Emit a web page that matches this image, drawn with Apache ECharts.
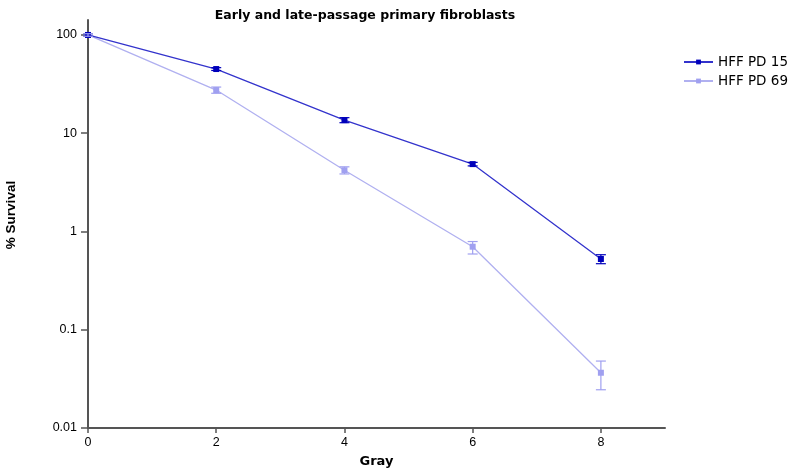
<!DOCTYPE html>
<html>
<head>
<meta charset="utf-8">
<script src="https://cdn.jsdelivr.net/npm/echarts@6/dist/echarts.min.js"></script>
<style>html,body{margin:0;padding:0;background:#fff}#c{width:800px;height:476px}</style>
</head>
<body>
<div id="c"></div>
<script>
const doses = [0, 2, 4, 6, 8];
const pd15 = [100, 45, 13.6, 4.85, 0.525];
const pd15Low = [97, 43.5, 12.8, 4.65, 0.47];
const pd15High = [103, 46.5, 14.4, 5.05, 0.58];
const pd69 = [100, 27.5, 4.2, 0.70, 0.0365];
const pd69Low = [97, 25.5, 3.85, 0.59, 0.0245];
const pd69High = [103, 29.5, 4.55, 0.79, 0.048];
const xTicks = [0, 2, 4, 6, 8];
const yTicks = [0.01, 0.1, 1, 10, 100];

const c15 = '#0000BB', l15 = '#3333CC';
const c69 = '#A0A0F0', l69 = '#B0B0F0';

function pairs(v){ return doses.map((d,i)=>[d, v[i]]); }
function errData(lo, hi){ return doses.map((d,i)=>[d, lo[i], hi[i]]); }
function errRender(color){
  return function(params, api){
    const x = api.value(0);
    const p1 = api.coord([x, api.value(1)]);
    const p2 = api.coord([x, api.value(2)]);
    const w = 5;
    const st = {stroke: color, lineWidth: 1.2};
    return {type:'group', children:[
      {type:'line', shape:{x1:p1[0], y1:p1[1], x2:p2[0], y2:p2[1]}, style:st},
      {type:'line', shape:{x1:p1[0]-w, y1:p1[1], x2:p1[0]+w, y2:p1[1]}, style:st},
      {type:'line', shape:{x1:p2[0]-w, y1:p2[1], x2:p2[0]+w, y2:p2[1]}, style:st}
    ]};
  };
}

const axisCol = '#555555';
const chart = echarts.init(document.getElementById('c'));
chart.setOption({
  animation: false,
  title: {
    text: 'Early and late-passage primary fibroblasts',
    left: 360, top: 4, textAlign: 'center',
    textStyle: {fontFamily: 'DejaVu Sans', fontSize: 12.5, fontWeight: 'bold', color: '#000'}
  },
  legend: {
    left: 683, top: 55, padding: 0, orient: 'vertical', itemGap: 5, itemWidth: 29, itemHeight: 6,
    textStyle: {fontFamily: 'DejaVu Sans', fontSize: 13.5, color: '#000'},
    data: ['HFF PD 15', 'HFF PD 69']
  },
  grid: {left: 88, right: 135, top: 20, bottom: 48, outerBoundsMode: 'none'},
  xAxis: {
    type: 'value', min: 0, max: 9, interval: 2,
    name: 'Gray', nameLocation: 'middle', nameGap: 27,
    nameTextStyle: {fontFamily: 'DejaVu Sans', fontSize: 13, fontWeight: 'bold', color: '#000'},
    splitLine: {show: false},
    axisLine: {lineStyle: {color: axisCol, width: 2}},
    axisTick: {show: true, length: 5, lineStyle: {color: axisCol, width: 1.5}, customValues: xTicks},
    axisLabel: {fontFamily: 'Liberation Sans', fontSize: 12.5, color: '#000', margin: 8, customValues: xTicks}
  },
  yAxis: {
    type: 'log', logBase: 10, min: 0.01, max: 142,
    name: '% Survival', nameLocation: 'middle', nameGap: 70, nameRotate: 90,
    nameTextStyle: {fontFamily: 'Liberation Sans', fontSize: 13.5, fontWeight: 'bold', color: '#000', padding: [0, 0, 0, 18]},
    splitLine: {show: false},
    axisLine: {show: true, lineStyle: {color: axisCol, width: 2}},
    axisTick: {show: true, length: 7, lineStyle: {color: axisCol, width: 1.5}, customValues: yTicks},
    axisLabel: {fontFamily: 'Liberation Sans', fontSize: 12.5, color: '#000', margin: 11, customValues: yTicks,
      formatter: v => String(+v.toPrecision(3))}
  },
  series: [
    {name: 'HFF PD 15', type: 'line', data: pairs(pd15), symbol: 'rect', symbolSize: 6,
     itemStyle: {color: c15}, lineStyle: {color: l15, width: 1.3}, z: 3},
    {name: 'HFF PD 69', type: 'line', data: pairs(pd69), symbol: 'rect', symbolSize: 6,
     itemStyle: {color: c69}, lineStyle: {color: l69, width: 1.3}, z: 2},
    {type: 'custom', data: errData(pd15Low, pd15High), renderItem: errRender(c15), z: 4, silent: true},
    {type: 'custom', data: errData(pd69Low, pd69High), renderItem: errRender(c69), z: 4, silent: true}
  ]
});
</script>
</body>
</html>
